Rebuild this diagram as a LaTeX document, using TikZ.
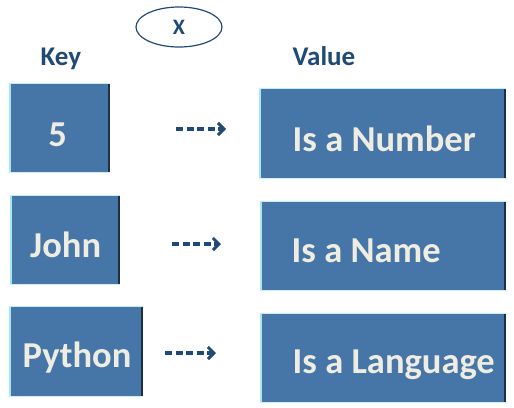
\documentclass[tikz,border=0pt]{standalone}
\usepackage{fontspec}
\setmainfont{Carlito}
\usetikzlibrary{arrows.meta}
\definecolor{boxblue}{HTML}{4676A8}
\definecolor{edgecyan}{HTML}{A8E6F4}
\definecolor{edgedark}{HTML}{1C2F45}
\definecolor{cream}{HTML}{EFECE2}
\definecolor{navy}{HTML}{1F4A75}
\tikzset{
  kvbox/.style={fill=boxblue, draw=none, inner sep=0pt},
  kvtext/.style={text=cream, inner sep=0pt, anchor=base west,
    font=\bfseries\fontsize{36.5}{40}\selectfont},
  head/.style={text=navy, inner sep=0pt, anchor=base west,
    font=\bfseries\fontsize{27}{30}\selectfont},
  maparrow/.style={navy, line width=3.6pt, dash pattern=on 7pt off 3.5pt,
    -{Straight Barb[length=6pt,width=12pt,line width=3pt]}},
}
\newcommand{\bevel}[1]{%
  \draw[edgecyan, line width=2.5pt] ([xshift=1.25pt]#1.north west) -- ([xshift=1.25pt]#1.south west);
  \draw[edgedark, line width=2.5pt] ([xshift=-1.25pt]#1.north east) -- ([xshift=-1.25pt]#1.south east);
  \draw[edgecyan!70!white, line width=0.8pt] (#1.north west) -- (#1.north east);
  \draw[edgecyan!60!white, line width=0.8pt] (#1.south west) -- (#1.south east);
}
\begin{document}
\begin{tikzpicture}[x=1pt,y=-1pt]
\useasboundingbox (0,0) rectangle (514,407);
% ellipse X
\draw[navy, line width=1.2pt] (179,27) ellipse [x radius=43, y radius=20];
\node[text=navy, font=\bfseries\fontsize{22}{26}\selectfont] (x) at (179,27) {X};
% headers
\node[head] (key) at (40.5,65) {Key};
\node[head] (value) at (292.5,65) {Value};
% key boxes
\node[kvbox, minimum width=101pt, minimum height=88pt] (k1) at (59.5,128) {};
\node[kvbox, minimum width=110pt, minimum height=88pt] (k2) at (65,240) {};
\node[kvbox, minimum width=134pt, minimum height=89pt] (k3) at (76,351.5) {};
% value boxes
\node[kvbox, minimum width=247pt, minimum height=89pt] (v1) at (382.5,133.5) {};
\node[kvbox, minimum width=246pt, minimum height=88pt] (v2) at (383,246) {};
\node[kvbox, minimum width=246pt, minimum height=88pt] (v3) at (383,358) {};
\bevel{k1}\bevel{k2}\bevel{k3}\bevel{v1}\bevel{v2}\bevel{v3}
% texts
\node[kvtext, anchor=base] (t1) at (57.5,146) {5};
\node[kvtext] (t2) at (30,257) {John};
\node[kvtext] (t3) at (22.5,367) {Python};
\node[kvtext] (u1) at (292.5,151) {Is a Number};
\node[kvtext] (u2) at (291.5,262) {Is a Name};
\node[kvtext] (u3) at (292.5,373) {Is a Language};
% arrows
\coordinate (a1s) at (176,129); \coordinate (a1e) at (226,129);
\coordinate (a2s) at (172,244); \coordinate (a2e) at (221,244);
\coordinate (a3s) at (165,353); \coordinate (a3e) at (216,353);
\draw[maparrow] (a1s) -- (a1e);
\draw[maparrow] (a2s) -- (a2e);
\draw[maparrow] (a3s) -- (a3e);
\end{tikzpicture}
\end{document}
